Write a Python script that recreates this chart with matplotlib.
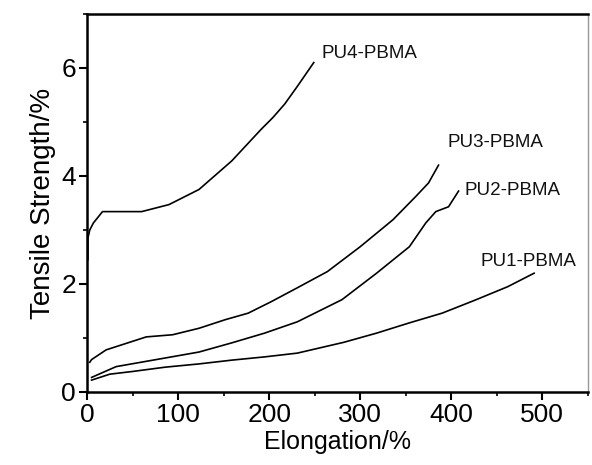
import matplotlib.pyplot as plt
from matplotlib.ticker import MultipleLocator

# ---- datos ----
x_pu4 = [1, 1, 3, 7, 17, 40, 60, 90, 123, 159, 191, 204, 217, 231, 249]
y_pu4 = [2.45, 2.85, 3.0, 3.13, 3.34, 3.34, 3.34, 3.47, 3.75, 4.28, 4.86, 5.08, 5.33, 5.66, 6.1]

x_pu3 = [3, 5, 21, 65, 94, 123, 152, 177, 202, 231, 264, 300, 336, 361, 375, 386]
y_pu3 = [0.55, 0.6, 0.78, 1.02, 1.06, 1.18, 1.34, 1.46, 1.67, 1.93, 2.23, 2.69, 3.19, 3.62, 3.87, 4.2]

x_pu2 = [5, 32, 86, 123, 159, 195, 231, 280, 318, 354, 372, 383, 397, 408]
y_pu2 = [0.27, 0.47, 0.63, 0.74, 0.91, 1.09, 1.3, 1.71, 2.2, 2.69, 3.13, 3.34, 3.43, 3.72]

x_pu1 = [5, 25, 50, 86, 123, 159, 195, 231, 282, 318, 354, 390, 426, 462, 491]
y_pu1 = [0.22, 0.33, 0.38, 0.46, 0.52, 0.59, 0.65, 0.72, 0.92, 1.09, 1.28, 1.46, 1.7, 1.95, 2.2]

series = [
    (x_pu4, y_pu4, "PU4-PBMA", (258, 6.26)),
    (x_pu3, y_pu3, "PU3-PBMA", (396, 4.62)),
    (x_pu2, y_pu2, "PU2-PBMA", (414, 3.73)),
    (x_pu1, y_pu1, "PU1-PBMA", (432, 2.41)),
]

plt.rcParams['font.family'] = ['Liberation Sans', 'DejaVu Sans']

fig = plt.figure(figsize=(5.92, 4.65), dpi=100)
ax = fig.add_axes([0.147, 0.157, 0.846, 0.813])

for xs, ys, nombre, pos in series:
    ax.plot(xs, ys, color='black', lw=1.2)
    ax.text(pos[0], pos[1], nombre, fontsize=13.5, va='center', ha='left',
            color='#111111')

ax.set_xlim(0, 550)
ax.set_ylim(0, 7)
ax.xaxis.set_major_locator(MultipleLocator(100))
ax.xaxis.set_minor_locator(MultipleLocator(50))
ax.yaxis.set_major_locator(MultipleLocator(2))
ax.yaxis.set_minor_locator(MultipleLocator(1))

ax.tick_params(which='major', direction='out', length=6, width=1.5, labelsize=19, pad=2)
ax.tick_params(which='minor', direction='out', length=3, width=1.2)
ax.tick_params(axis='y', which='both', right=False)
ax.tick_params(axis='x', which='both', top=False)

for lado in ['left', 'bottom', 'top']:
    ax.spines[lado].set_linewidth(1.8)
ax.spines['right'].set_linewidth(1.0)
ax.spines['right'].set_color('#999999')

ax.set_xlabel("Elongation/%", fontsize=18, labelpad=2)
ax.set_ylabel("Tensile Strength/%", fontsize=20, labelpad=4)

fig.savefig("out.png", dpi=100)
